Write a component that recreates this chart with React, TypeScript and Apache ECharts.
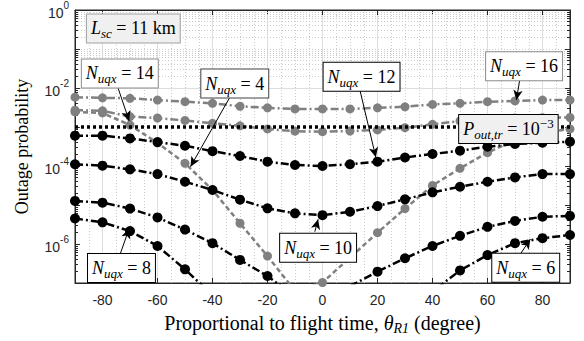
import React, { useEffect, useRef } from "react";
import * as echarts from "echarts";

// ---------- data ----------
const theta = [-90, -80, -70, -60, -50, -40, -30, -20, -10, 0, 10, 20, 30, 40, 50, 60, 70, 80, 90];

// gray curves
const nuqx16 = [5.8e-3, 5.6e-3, 5.45e-3, 4.9e-3, 4.45e-3, 4.05e-3, 3.4e-3, 3.1e-3, 2.9e-3, 2.9e-3, 2.9e-3, 3.1e-3, 3.3e-3, 3.8e-3, 4.05e-3, 4.45e-3, 4.65e-3, 4.9e-3, 4.9e-3];
const nuqx14 = [2.7e-3, 2.6e-3, 1.85e-3, 1.7e-3, 1.47e-3, 1.24e-3, 1.07e-3, 8.9e-4, 7.8e-4, 7.6e-4, 7.9e-4, 8.4e-4, 9.6e-4, 1.17e-3, 1.43e-3, 1.6e-3, 1.7e-3, 1.73e-3, 1.75e-3];
const nuqx4 = [2.43e-3, 2.29e-3, 1.12e-3, 3.9e-4, 1.17e-4, 2.43e-5, 3.4e-6, 4.9e-7, 6.3e-8, 1.03e-7, null, 1.95e-6, 8.1e-6, 3.16e-5, 8.7e-5, 2.2e-4, 4.6e-4, 7.0e-4, 8.9e-4];

// black curves
const nuqx12 = [6.0e-4, 6.0e-4, 5.1e-4, 4.1e-4, 3.3e-4, 2.4e-4, 1.8e-4, 1.29e-4, 1.06e-4, 1.0e-4, 1.11e-4, 1.29e-4, 1.65e-4, 2.03e-4, 2.47e-4, 3.13e-4, 3.66e-4, 3.95e-4, 4.2e-4];
const nuqx10 = [1.11e-4, 1.02e-4, 8.2e-5, 6.2e-5, 3.95e-5, 2.43e-5, 1.37e-5, 8.2e-6, 6.1e-6, 5.5e-6, 6.7e-6, 9.4e-6, 1.4e-5, 2.11e-5, 2.94e-5, 3.95e-5, 5.1e-5, 6.2e-5, 6.2e-5];
const curveC = [1.27e-5, 1.15e-5, 8.1e-6, 4.8e-6, 2.34e-6, 1.05e-6, 3.9e-7, 1.51e-7, 4.4e-8, 3.2e-8, 8.3e-8, 1.95e-7, 4.3e-7, 8.9e-7, 1.62e-6, 2.75e-6, 3.9e-6, 5.0e-6, 5.25e-6];
const curveD = [4.5e-6, 3.6e-6, 2.14e-6, 8.9e-7, 2.24e-7, 4.9e-8, 1.26e-8, 5.0e-9, 3.2e-9, 2.5e-9, 3.2e-9, 6.3e-9, 1.8e-8, 6.0e-8, 2.1e-7, 5.2e-7, 1.05e-6, 1.41e-6, 1.7e-6];

const threshold = 1e-3;

const xMin = -90;
const xMax = 90;
const yMin = 1e-7;
const yMax = 1;

// ---------- styles ----------
const SERIF = "'Liberation Serif', 'Times New Roman', serif";
const SANS = "'Liberation Sans', Arial, sans-serif";
const GRAY = "#808080";
const BLACK = "#000000";
const AXIS = "#262626";
const DASHDOT = [8, 3, 2, 3];

const richMath = {
  i: { fontFamily: SERIF, fontStyle: "italic", fontSize: 18, lineHeight: 24, color: "#000" },
  sub: { fontFamily: SERIF, fontStyle: "italic", fontSize: 13, lineHeight: 13, verticalAlign: "bottom", color: "#000" },
  t: { fontFamily: SERIF, fontSize: 18, lineHeight: 24, color: "#000" },
  sup: { fontFamily: SERIF, fontSize: 13, lineHeight: 13, verticalAlign: "top", color: "#000" },
};

function curve(name: string, vals: (number | null)[], color: string, dash: number[], size: number) {
  return {
    type: "line",
    name,
    data: theta.map((t, i) => [t, vals[i] === null ? "-" : vals[i]]),
    symbol: "circle",
    symbolSize: size,
    itemStyle: { color, borderWidth: 0 },
    lineStyle: { color, width: 2.5, type: dash },
    connectNulls: true,
    clip: true,
    silent: true,
    z: 3,
  };
}

function box(coord: [number, number], formatter: string, bg: string, border: string) {
  return {
    coord,
    label: {
      show: true,
      position: "inside",
      formatter,
      backgroundColor: bg,
      borderColor: border,
      borderWidth: 1,
      padding: [2, 4],
      rich: richMath,
    },
  };
}

function arrow(from: [number, number], to: [number, number]) {
  return [{ coord: from }, { coord: to }];
}

export default function App() {
  const ref = useRef<HTMLDivElement>(null);

  useEffect(() => {
    const chart = echarts.init(ref.current!, null, { renderer: "svg" });

    // grid decorations (log minor grid, x minor grid)
    const gridLines: any[] = [];
    for (let k = -7; k <= -1; k++) {
      for (let m = 1; m <= 9; m++) {
        const v = m * Math.pow(10, k);
        if (v <= yMin) continue;
        const major = m === 1 && k % 2 === 0;
        gridLines.push({
          yAxis: v,
          lineStyle: major
            ? { color: "#dedede", width: 1, type: "solid" }
            : { color: "#cccccc", width: 1, type: [1, 2] },
        });
        gridLines.push([
          { coord: [xMin, v], lineStyle: { color: AXIS, width: 1, type: "solid" } },
          { coord: [xMin + (m === 1 ? 1.8 : 1.1), v] },
        ]);
        gridLines.push([
          { coord: [xMax, v], lineStyle: { color: AXIS, width: 1, type: "solid" } },
          { coord: [xMax - (m === 1 ? 1.8 : 1.1), v] },
        ]);
      }
    }
    for (let x = -85; x <= 85; x += 5) {
      if (x % 20 === 0) continue;
      gridLines.push({ xAxis: x, lineStyle: { color: "#cccccc", width: 1, type: [1, 2] } });
    }

    const option: any = {
      animation: false,
      backgroundColor: "#ffffff",
      grid: {
        left: 75,
        right: 14,
        top: 10,
        bottom: 58,
        show: true,
        borderColor: AXIS,
        borderWidth: 1,
        backgroundColor: "#ffffff",
      },
      xAxis: [
        {
          type: "value",
          min: xMin,
          max: xMax,
          splitNumber: 9,
          axisLine: { show: true, onZero: false, lineStyle: { color: AXIS } },
          axisTick: { show: true, inside: true, length: 5, lineStyle: { color: AXIS } },
          axisLabel: {
            show: true,
            showMinLabel: false,
            showMaxLabel: false,
            margin: 10,
            color: AXIS,
            fontFamily: SANS,
            fontSize: 14,
          },
          splitLine: { show: true, lineStyle: { color: "#dedede", width: 1 } },
          name: "Proportional to flight time, {i|θ}{sub|R1} (degree)",
          nameLocation: "middle",
          nameGap: 28,
          nameTextStyle: {
            fontFamily: SERIF,
            fontSize: 20,
            color: "#000",
            rich: {
              i: { fontFamily: SERIF, fontStyle: "italic", fontSize: 20, lineHeight: 24 },
              sub: { fontFamily: SERIF, fontStyle: "italic", fontSize: 14, lineHeight: 14, verticalAlign: "bottom" },
            },
          },
        },
        {
          type: "value",
          position: "top",
          min: xMin,
          max: xMax,
          splitNumber: 9,
          axisLine: { show: true, onZero: false, lineStyle: { color: AXIS } },
          axisTick: { show: true, inside: true, length: 5, lineStyle: { color: AXIS } },
          axisLabel: { show: false },
          splitLine: { show: false },
        },
      ],
      yAxis: [
        {
          type: "log",
          logBase: 10,
          min: yMin,
          max: yMax,
          splitNumber: 7,
          axisLine: { show: true, onZero: false, lineStyle: { color: AXIS } },
          axisTick: { show: false },
          splitLine: { show: false },
          axisLabel: {
            show: true,
            margin: 6,
            formatter: (v: number) => {
              const e = Math.round(Math.log10(v));
              return e % 2 === 0 ? `{b|10}{s|${e}}` : "";
            },
            rich: {
              b: { fontFamily: SANS, fontSize: 14, lineHeight: 20, color: AXIS, verticalAlign: "bottom" },
              s: { fontFamily: SANS, fontSize: 10, lineHeight: 10, color: AXIS, verticalAlign: "top" },
            },
          },
          name: "Outage probability",
          nameLocation: "middle",
          nameGap: 44,
          nameTextStyle: { fontFamily: SERIF, fontSize: 18, color: "#000" },
        },
        {
          type: "log",
          logBase: 10,
          position: "right",
          min: yMin,
          max: yMax,
          splitNumber: 7,
          axisLine: { show: true, onZero: false, lineStyle: { color: AXIS } },
          axisTick: { show: false },
          axisLabel: { show: false },
          splitLine: { show: false },
        },
      ],
      series: [
        {
          type: "line",
          name: "grid",
          data: [],
          silent: true,
          z: 1,
          markLine: {
            silent: true,
            z: 1,
            symbol: "none",
            label: { show: false },
            animation: false,
            data: gridLines,
          },
        },
        curve("N_uqx = 16", nuqx16, GRAY, DASHDOT, 9),
        curve("N_uqx = 14", nuqx14, GRAY, DASHDOT, 9),
        curve("N_uqx = 4", nuqx4, GRAY, [5, 3], 9),
        curve("N_uqx = 12", nuqx12, BLACK, DASHDOT, 10),
        curve("N_uqx = 10", nuqx10, BLACK, DASHDOT, 10),
        curve("N_uqx = 8", curveC, BLACK, DASHDOT, 10),
        curve("N_uqx = 6", curveD, BLACK, DASHDOT, 10),
        {
          type: "line",
          name: "P_out,tr",
          data: [[xMin, threshold], [xMax, threshold]],
          symbol: "none",
          lineStyle: { color: BLACK, width: 3.5, type: [3, 3] },
          silent: true,
          z: 4,
        },
        {
          type: "line",
          name: "annotations",
          data: [],
          silent: true,
          z: 10,
          markLine: {
            silent: true,
            z: 10,
            symbol: ["none", "arrow"],
            symbolSize: [7, 10],
            label: { show: false },
            lineStyle: { color: "#000", width: 1, type: "solid" },
            data: [
              arrow([-74.3, 9.8e-3], [-70.3, 1.43e-3]),
              arrow([-33.7, 5.78e-3], [-48.0, 9.6e-5]),
              arrow([13.6, 8.9e-3], [19.4, 1.67e-4]),
              arrow([71.7, 1.6e-2], [70.5, 4.9e-3]),
              arrow([-2.8, 2.07e-6], [-1.6, 4.3e-6]),
              arrow([-73.7, 5.2e-7], [-70.3, 2.5e-6]),
              arrow([71.7, 5.2e-7], [75.6, 1.34e-6]),
            ],
          },
          markPoint: {
            silent: true,
            z: 11,
            symbol: "circle",
            symbolSize: 0,
            itemStyle: { color: "transparent" },
            data: [
              box([-68.8, 0.336], "{i|L}{sub|sc}{t| = 11 km}", "#f0f0f0", "#a0a0a0"),
              box([-73.7, 0.0236], "{i|N}{sub|uqx}{t| = 14}", "#ffffff", "#8c8c8c"),
              box([-31.9, 0.013], "{i|N}{sub|uqx}{t| = 4}", "#ffffff", "#404040"),
              box([14.2, 0.0195], "{i|N}{sub|uqx}{t| = 12}", "#ffffff", "#000000"),
              box([73.3, 0.036], "{i|N}{sub|uqx}{t| = 16}", "#ffffff", "#8c8c8c"),
              box([67.6, 8.9e-4], "{i|P}{sub|out,tr}{t| = 10}{sup|−3}", "#f0f0f0", "#000000"),
              box([-1.6, 8.05e-7], "{i|N}{sub|uqx}{t| = 10}", "#ffffff", "#000000"),
              box([-73.1, 2.43e-7], "{i|N}{sub|uqx}{t| = 8}", "#ffffff", "#000000"),
              box([73.9, 2.47e-7], "{i|N}{sub|uqx}{t| = 6}", "#ffffff", "#000000"),
            ],
          },
        },
      ],
    };

    chart.setOption(option);
    return () => chart.dispose();
  }, []);

  return (
    <div
      ref={ref}
      style={{ position: "fixed", left: 0, top: 0, width: 584, height: 341, background: "#fff" }}
    />
  );
}
